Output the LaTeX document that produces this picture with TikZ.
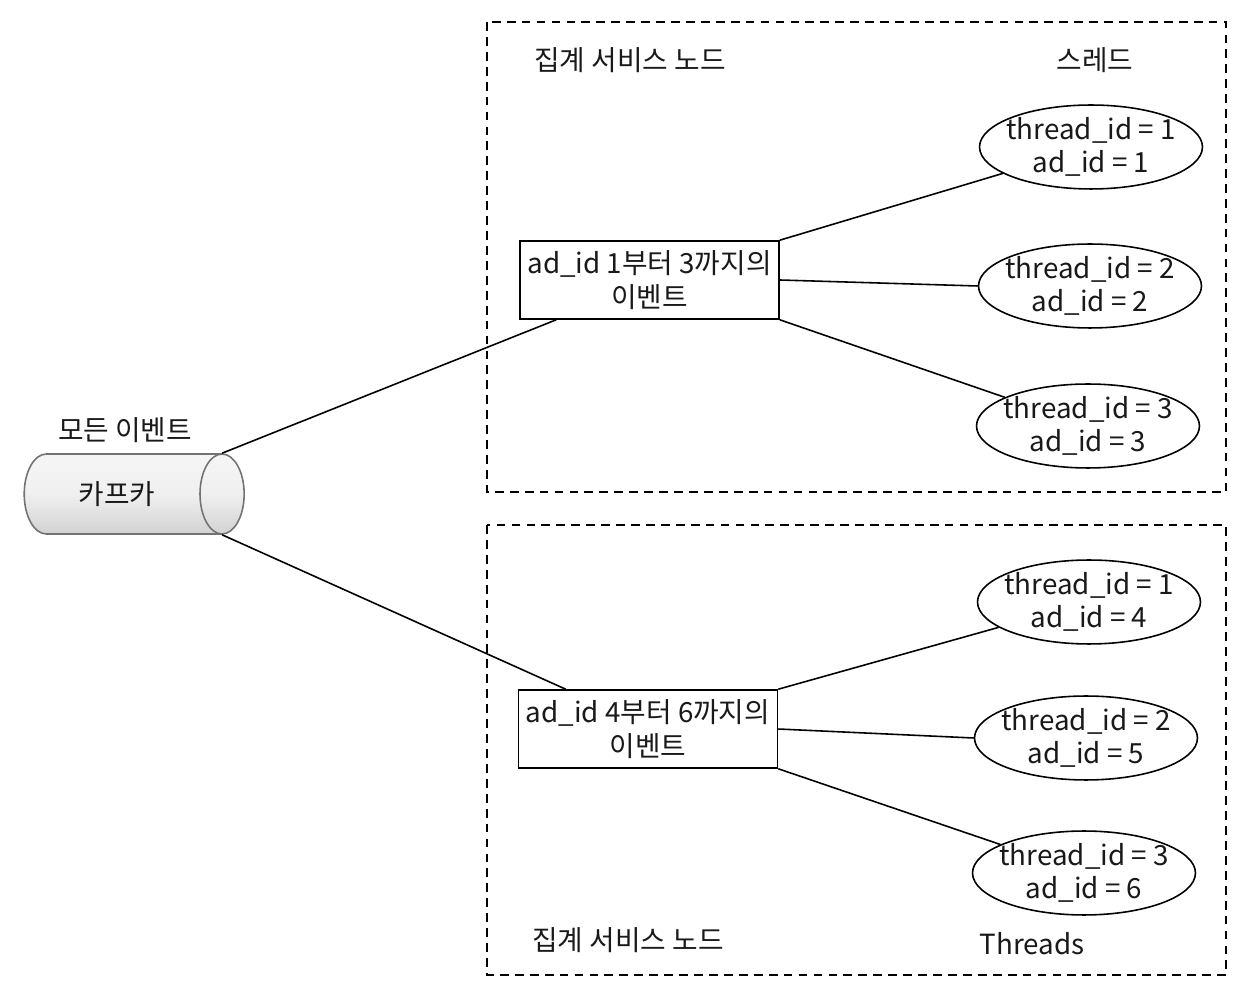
\documentclass[tikz,border=0pt]{standalone}
\usepackage{fontspec}
\setmainfont{Noto Sans CJK KR}
\usetikzlibrary{shapes.geometric}

\tikzset{
  grupo/.style={draw, line width=0.9pt, minimum width=5.18cm, minimum height=1.56cm, align=center, inner sep=1pt},
  hilo/.style={draw, ellipse, line width=0.9pt, minimum width=4.46cm, minimum height=1.6cm, align=center, inner ysep=0pt, inner xsep=-4pt},
  marco/.style={dashed, line width=0.9pt, dash pattern=on 5pt off 3.5pt},
  enlace/.style={line width=0.9pt},
  rotulo/.style={inner sep=0pt}
}

\begin{document}
\begin{tikzpicture}[x=0.02cm, y=-0.02cm, font=\fontsize{15.8}{19}\selectfont, text=black!90]
        \useasboundingbox (0,0) rectangle (1252,1006);

        % Marcos de los nodos de servicio
        \draw[marco] (487,22) rectangle (1226,492);
        \draw[marco] (487,525) rectangle (1226,975);
        \node[rotulo] (serv1) at (630,60) {집계 서비스 노드};
        \node[rotulo] (hilos1) at (1095,60) {스레드};
        \node[rotulo] (serv2) at (628,940) {집계 서비스 노드};
        \node[rotulo] (hilos2) at (1032,944) {Threads};

        % Kafka
        \node[draw=black!55, line width=0.9pt, cylinder, shape border rotate=0, aspect=1.2,
              minimum width=1.6cm, minimum height=4.4cm,
              top color=gray!8, bottom color=gray!35, middle color=gray!12] (kafka) at (117,494) {카프카};
        \node[rotulo] (todos) at (125,430) {모든 이벤트};

        % Grupos de eventos
        \node[grupo] (grp1) at (649.5,280) {ad\_id 1부터 3까지의\\이벤트};
        \node[grupo] (grp2) at (648,729) {ad\_id 4부터 6까지의\\이벤트};

        % Hilos
        \node[hilo] (t11) at (1091,147) {thread\_id = 1\\ad\_id = 1};
        \node[hilo] (t12) at (1090,286) {thread\_id = 2\\ad\_id = 2};
        \node[hilo] (t13) at (1088,426) {thread\_id = 3\\ad\_id = 3};
        \node[hilo] (t21) at (1089,602) {thread\_id = 1\\ad\_id = 4};
        \node[hilo] (t22) at (1086,738) {thread\_id = 2\\ad\_id = 5};
        \node[hilo] (t23) at (1084,873) {thread\_id = 3\\ad\_id = 6};

        % Conexiones
        \draw[enlace] (kafka.before top) -- ([xshift=0.74cm]grp1.south west);
        \draw[enlace] (kafka.after top) -- ([xshift=0.96cm]grp2.north west);

        \draw[enlace] (grp1.north east) -- (t11);
        \draw[enlace] (grp1.east) -- (t12.west);
        \draw[enlace] (grp1.south east) -- (t13);

        \draw[enlace] (grp2.north east) -- (t21);
        \draw[enlace] (grp2.east) -- (t22.west);
        \draw[enlace] (grp2.south east) -- (t23);

\end{tikzpicture}
\end{document}
